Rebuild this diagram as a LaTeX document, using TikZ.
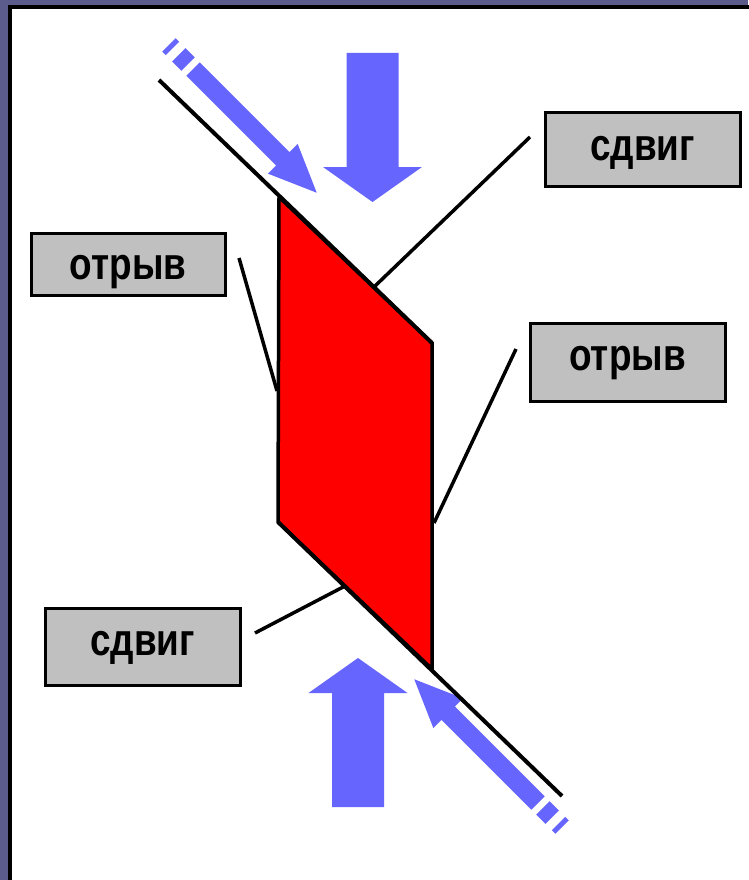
\documentclass[tikz,border=0pt]{standalone}
\usepackage{fontspec}
\setmainfont{Liberation Sans}
\newfontfamily\lblfont{Liberation Sans}[FakeStretch=0.82]
\definecolor{bgpurple}{RGB}{92,92,140}
\definecolor{arrowblue}{RGB}{102,102,255}
\definecolor{boxgray}{RGB}{192,192,192}
\begin{document}
\begin{tikzpicture}[x=1pt,y=-1pt,
  labelbox/.style={draw=black,line width=3pt,fill=boxgray,inner sep=0pt,
    font=\lblfont\bfseries\fontsize{45}{54}\selectfont,text depth=0pt,minimum width=195pt},
  leader/.style={line width=3.5pt},
  force/.style={fill=arrowblue},
  edgeline/.style={line width=4pt}]
\useasboundingbox (0,0) rectangle (748,880);
% background and frame
\fill[bgpurple] (0,0) rectangle (748,880);
\draw[line width=4pt,fill=white] (10,7) rectangle (770,900);

% vertical force arrows
\fill[force] (346.5,53) -- (398.5,53) -- (398.5,167) -- (422,167) -- (372.5,202) -- (323,167) -- (346.5,167) -- cycle;
\fill[force] (332,807) -- (384,807) -- (384,693) -- (407.5,693) -- (358,658) -- (308.5,693) -- (332,693) -- cycle;

% diagonal force arrows
\begin{scope}[shift={(193,69)},rotate=-45]
  \fill[force] (0,-9.5) -- (127,-9.5) -- (127,-21) -- (175,0) -- (127,21) -- (127,9.5) -- (0,9.5) -- cycle;
  \fill[force] (-20,-9.5) rectangle (-7,9.5);
  \fill[force] (-34,-9.5) rectangle (-29,9.5);
\end{scope}
\begin{scope}[shift={(538,803)},rotate=135]
  \fill[force] (0,-9.5) -- (127,-9.5) -- (127,-21) -- (175,0) -- (127,21) -- (127,9.5) -- (0,9.5) -- cycle;
  \fill[force] (-20,-9.5) rectangle (-7,9.5);
  \fill[force] (-34,-9.5) rectangle (-29,9.5);
\end{scope}

% specimen
\coordinate (pTL) at (279,197);
\coordinate (pTR) at (432,343);
\coordinate (pBR) at (432,669);
\coordinate (pBL) at (278,522);
\coordinate (lineTopStart) at (159,80);
\coordinate (lineBotEnd) at (562,796);
\filldraw[fill=red,line width=3.5pt,line join=miter] (pTL) -- (pTR) -- (pBR) -- (pBL) -- cycle;
\draw[edgeline] (lineTopStart) -- (pTR);
\draw[edgeline] (pBL) -- (lineBotEnd);

% labels
\node[labelbox,minimum height=73pt,text height=21pt] (shearTop) at (642.5,149.5) {сдвиг};
\node[labelbox,minimum width=194pt,minimum height=62pt,text height=30pt] (tearLeft) at (128,264) {отрыв};
\node[labelbox,minimum height=78pt,text height=16pt] (tearRight) at (627.5,362) {отрыв};
\node[labelbox,minimum height=77pt,text height=17pt] (shearBottom) at (142.5,646.5) {сдвиг};

% leader lines
\coordinate (shearTopA) at (530,137);
\coordinate (shearTopB) at (374,287);
\coordinate (tearLeftA) at (239,258);
\coordinate (tearLeftB) at (277,391);
\coordinate (tearRightA) at (516,349);
\coordinate (tearRightB) at (434,523);
\coordinate (shearBottomA) at (255,633);
\coordinate (shearBottomB) at (345,586);
\draw[leader] (shearTopA) -- (shearTopB);
\draw[leader] (tearLeftA) -- (tearLeftB);
\draw[leader] (tearRightA) -- (tearRightB);
\draw[leader] (shearBottomA) -- (shearBottomB);
\end{tikzpicture}
\end{document}
